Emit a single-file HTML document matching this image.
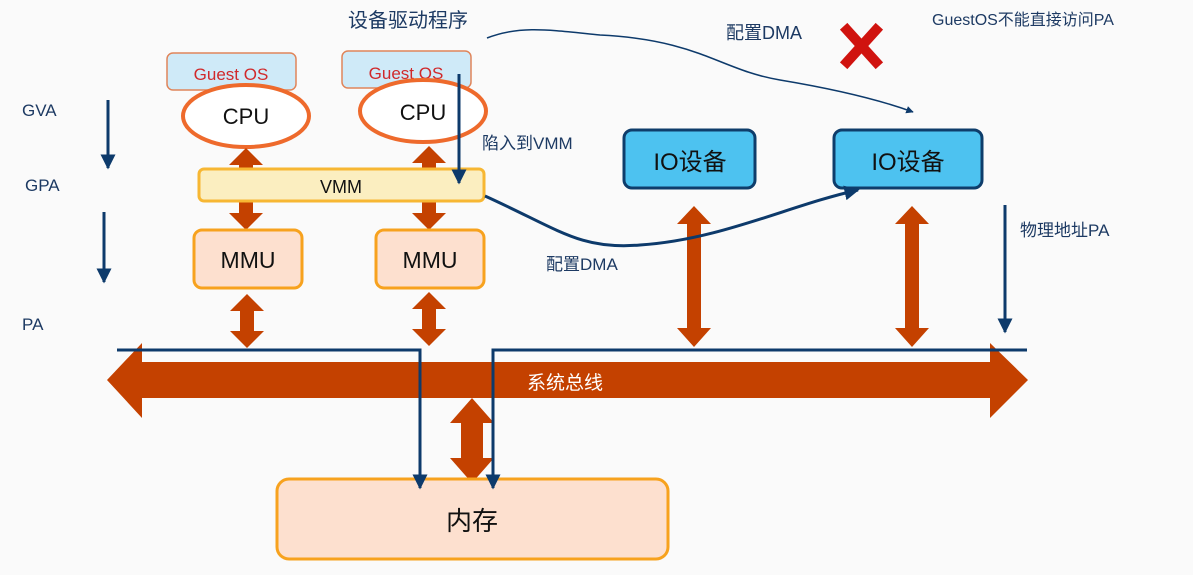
<!DOCTYPE html>
<html><head><meta charset="utf-8"><style>
body{margin:0;background:#fafafa;}
svg text{font-family:"Liberation Sans","Noto Sans CJK SC",sans-serif;}
</style></head><body>
<svg width="1193" height="570" viewBox="0 0 1193 570" xmlns="http://www.w3.org/2000/svg">
<defs>
<marker id="ah" viewBox="0 0 10 10" refX="9" refY="5" markerWidth="5" markerHeight="5" orient="auto"><path d="M0,0L10,5L0,10z" fill="#0d3a6b"/></marker>
</defs>
<rect width="1193" height="570" fill="#fafafa"/>
<g fill="#1d3a63" font-size="17">
<text x="22" y="116">GVA</text><text x="25" y="191">GPA</text><text x="22" y="330">PA</text>
</g>
<line x1="108" y1="100" x2="108" y2="168" stroke="#0d3a6b" stroke-width="3" marker-end="url(#ah)"/>
<line x1="104" y1="212" x2="104" y2="282" stroke="#0d3a6b" stroke-width="3" marker-end="url(#ah)"/>
<rect x="167" y="53" width="129" height="37" rx="6" fill="#cfeaf8" stroke="#e0855a" stroke-width="1.5"/>
<text x="231" y="80" text-anchor="middle" font-size="17" fill="#d0292b">Guest OS</text>
<rect x="342" y="51" width="129" height="37" rx="6" fill="#cfeaf8" stroke="#e0855a" stroke-width="1.5"/>
<text x="406" y="79" text-anchor="middle" font-size="17" fill="#d0292b">Guest OS</text>
<ellipse cx="246" cy="116" rx="63" ry="31" fill="#fff" stroke="#ee6a2c" stroke-width="4"/>
<text x="246" y="124" text-anchor="middle" font-size="22" fill="#111">CPU</text>
<ellipse cx="423" cy="111" rx="63" ry="31" fill="#fff" stroke="#ee6a2c" stroke-width="4"/>
<text x="423" y="120" text-anchor="middle" font-size="22" fill="#111">CPU</text>
<g fill="#c44100">
<path d="M246,148 l17,17 h-10 v4 h-14 v-4 h-10z"/>
<path d="M246,230 l17,-17 h-10 v-12 h-14 v12 h-10z"/>
<path d="M429,146 l17,17 h-10 v6 h-14 v-6 h-10z"/>
<path d="M429,230 l17,-17 h-10 v-12 h-14 v12 h-10z"/>
<path d="M247,294 l17,17 h-10 v20 h10 l-17,17 l-17,-17 h10 v-20 h-10z"/>
<path d="M429,292 l17,17 h-10 v20 h10 l-17,17 l-17,-17 h10 v-20 h-10z"/>
<path d="M472,398 l22,25 h-11 v35 h11 l-22,25 l-22,-25 h11 v-35 h-11z"/>
<path d="M694,206 l17,18 h-10 v104 h10 l-17,19 l-17,-19 h10 v-104 h-10z"/>
<path d="M912,206 l17,18 h-10 v104 h10 l-17,19 l-17,-19 h10 v-104 h-10z"/>
<path d="M107,380 L142,343 V362 H990 V343 L1028,380 L990,418 V398 H142 V418z"/>
</g>
<rect x="199" y="169" width="285" height="32" rx="5" fill="#fbeec0" stroke="#f7b733" stroke-width="3"/>
<text x="341" y="193" text-anchor="middle" font-size="18" fill="#111">VMM</text>
<rect x="194" y="230" width="108" height="58" rx="8" fill="#fde0cf" stroke="#f7a21e" stroke-width="3"/>
<text x="248" y="268" text-anchor="middle" font-size="23" fill="#111">MMU</text>
<rect x="376" y="230" width="108" height="58" rx="8" fill="#fde0cf" stroke="#f7a21e" stroke-width="3"/>
<text x="430" y="268" text-anchor="middle" font-size="23" fill="#111">MMU</text>
<rect x="277" y="479" width="391" height="80" rx="12" fill="#fde0cf" stroke="#f7a21e" stroke-width="3"/>
<text x="472" y="530" text-anchor="middle" font-size="26" fill="#111">内存</text>
<text x="565" y="389" text-anchor="middle" font-size="19" fill="#fff">系统总线</text>
<rect x="624" y="130" width="131" height="58" rx="8" fill="#4dc2f0" stroke="#0e3d6b" stroke-width="3"/>
<text x="690" y="170" text-anchor="middle" font-size="24" fill="#111">IO设备</text>
<rect x="834" y="130" width="148" height="58" rx="8" fill="#4dc2f0" stroke="#0e3d6b" stroke-width="3"/>
<text x="908" y="170" text-anchor="middle" font-size="24" fill="#111">IO设备</text>
<g stroke="#0d3a6b" stroke-width="3" fill="none">
<polyline points="117,350 420,350 420,488" marker-end="url(#ah)"/>
<polyline points="1027,350 493,350 493,488" marker-end="url(#ah)"/>
<line x1="1005" y1="205" x2="1005" y2="332" marker-end="url(#ah)"/>
<line x1="459" y1="74" x2="459" y2="183" marker-end="url(#ah)"/>
<path d="M485,196 C560,230 580,250 640,245 C720,240 790,205 858,190" marker-end="url(#ah)"/>
<path d="M487,38 C520,25 550,30 600,35 C700,40 720,70 780,80 C840,90 880,100 913,112" stroke-width="1.5" marker-end="url(#ah)"/>
</g>
<g fill="#1d3a63">
<text x="348" y="27" font-size="20">设备驱动程序</text>
<text x="726" y="39" font-size="18">配置DMA</text>
<text x="932" y="25" font-size="16">GuestOS不能直接访问PA</text>
<text x="482" y="149" font-size="17">陷入到VMM</text>
<text x="546" y="270" font-size="17">配置DMA</text>
<text x="1020" y="236" font-size="17">物理地址PA</text>
</g>
<g stroke="#d0130f" stroke-width="10" stroke-linecap="square">
<line x1="847" y1="30" x2="876" y2="62"/><line x1="876" y1="30" x2="847" y2="62"/>
</g>
</svg>
</body></html>
